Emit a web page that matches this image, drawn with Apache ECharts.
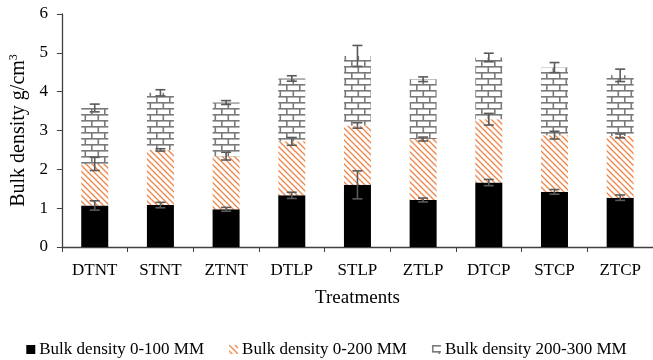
<!DOCTYPE html>
<html>
<head>
<meta charset="utf-8">
<script src="https://cdn.jsdelivr.net/npm/echarts@6/dist/echarts.min.js"></script>
<style>html,body{margin:0;padding:0;background:#fff}#chart{width:653px;height:360px}</style>
</head>
<body>
<div id="chart"></div>
<script>
// ---- data ----
const categories = ['DTNT','STNT','ZTNT','DTLP','STLP','ZTLP','DTCP','STCP','ZTCP'];
const seriesNames = ['Bulk density 0-100 MM','Bulk density 0-200 MM','Bulk density 200-300 MM'];
const depth0_100   = [1.07, 1.08, 0.97, 1.33, 1.60, 1.21, 1.66, 1.42, 1.27];
const depth0_200   = [1.07, 1.42, 1.37, 1.39, 1.53, 1.57, 1.63, 1.46, 1.59];
const depth200_300 = [1.44, 1.47, 1.38, 1.62, 1.79, 1.54, 1.59, 1.74, 1.56];
const err0_100   = [0.12, 0.07, 0.05, 0.08, 0.36, 0.05, 0.08, 0.06, 0.07];
const err0_200   = [0.17, 0.03, 0.10, 0.10, 0.07, 0.05, 0.15, 0.10, 0.05];
const err200_300 = [0.10, 0.08, 0.05, 0.07, 0.27, 0.06, 0.11, 0.13, 0.16];
const yTicks = [0, 6, 1];

// ---- patterns ----
function hatch() {
  const c = document.createElement('canvas'); c.width = 6; c.height = 6;
  const g = c.getContext('2d');
  g.fillStyle = '#fff'; g.fillRect(0,0,6,6);
  g.strokeStyle = '#EC8547'; g.lineWidth = 1.3;
  g.beginPath();
  g.moveTo(-1,-1); g.lineTo(7,7);
  g.moveTo(-4,2); g.lineTo(2,8);
  g.moveTo(2,-4); g.lineTo(8,2);
  g.stroke();
  return c;
}
function bricks() {
  const w = 13, h = 12;
  const c = document.createElement('canvas'); c.width = w; c.height = h;
  const g = c.getContext('2d');
  g.fillStyle = '#fff'; g.fillRect(0,0,w,h);
  g.fillStyle = '#7a7a7a';
  g.fillRect(0,0,w,1.6);
  g.fillRect(0,6,w,1.6);
  g.fillRect(0,0,1.6,6);
  g.fillRect(6.5,6,1.6,6);
  return c;
}
const hatchPat = {image: hatch(), repeat: 'repeat'};
const brickPat = {image: bricks(), repeat: 'repeat'};

const chart = echarts.init(document.getElementById('chart'), null, {renderer: 'canvas'});

const stacks = [depth0_100, depth0_200, depth200_300];
const errs = [err0_100, err0_200, err200_300];
const errData = [];
categories.forEach((c, i) => {
  let cum = 0;
  stacks.forEach((s, k) => { cum += s[i]; errData.push([i, cum, errs[k][i]]); });
});

const font = 'Liberation Serif, Times New Roman, serif';
chart.setOption({
  animation: false,
  textStyle: {fontFamily: font},
  grid: {left: 59, top: 14, width: 598, height: 233},
  legend: {
    top: 336, left: 'center', itemWidth: 9, itemHeight: 9, itemGap: 25, icon: 'rect',
    textStyle: {fontFamily: font, fontSize: 17, color: '#000', padding: [0,0,0,-1]},
    data: seriesNames
  },
  xAxis: {
    type: 'category', data: categories,
    name: 'Treatments', nameLocation: 'middle', nameGap: 42,
    nameTextStyle: {fontFamily: font, fontSize: 19, color: '#000'},
    axisLine: {lineStyle: {color: '#404040', width: 1.3}},
    axisTick: {show: true, length: 5, lineStyle: {color: '#404040'}},
    axisLabel: {fontFamily: font, fontSize: 17, color: '#000', margin: 15}
  },
  yAxis: {
    type: 'value', min: yTicks[0], max: yTicks[1], interval: yTicks[2],
    name: 'Bulk density g/cm{sup|3}', nameLocation: 'middle', nameGap: 31, nameRotate: 90,
    nameTextStyle: {fontFamily: font, fontSize: 20, color: '#000',
      rich: {sup: {fontFamily: font, fontSize: 12, verticalAlign: 'top', padding: [0,0,9,0], color: '#000'}}},
    axisLine: {show: true, lineStyle: {color: '#404040', width: 1.3}},
    axisTick: {show: true, length: 5, lineStyle: {color: '#404040'}},
    splitLine: {show: false},
    axisLabel: {fontFamily: font, fontSize: 17, color: '#000', margin: 14}
  },
  series: [
    {name: seriesNames[0], type: 'bar', stack: 'bd', barWidth: 27, data: depth0_100,
     itemStyle: {color: '#000'}},
    {name: seriesNames[1], type: 'bar', stack: 'bd', barWidth: 27, data: depth0_200,
     itemStyle: {color: hatchPat}},
    {name: seriesNames[2], type: 'bar', stack: 'bd', barWidth: 27, data: depth200_300,
     itemStyle: {color: brickPat}},
    {type: 'custom', z: 10, silent: true, data: errData,
     renderItem: function (params, api) {
       const x = api.value(0), y = api.value(1), e = api.value(2);
       const top = api.coord([x, y + e]);
       const bot = api.coord([x, y - e]);
       const hw = 5;
       const st = {stroke: '#5a5a5a', lineWidth: 1.6};
       return {type: 'group', children: [
         {type: 'line', shape: {x1: top[0], y1: top[1], x2: bot[0], y2: bot[1]}, style: st},
         {type: 'line', shape: {x1: top[0]-hw, y1: top[1], x2: top[0]+hw, y2: top[1]}, style: st},
         {type: 'line', shape: {x1: bot[0]-hw, y1: bot[1], x2: bot[0]+hw, y2: bot[1]}, style: st}
       ]};
     }}
  ]
});
</script>
</body>
</html>
